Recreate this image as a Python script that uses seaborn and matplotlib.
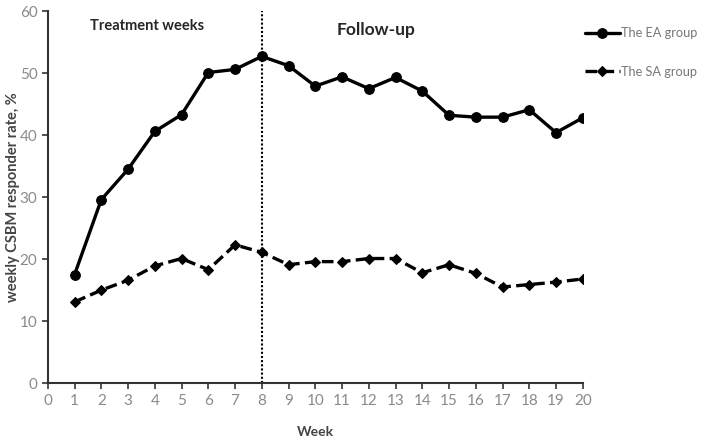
import pandas as pd
import matplotlib.pyplot as plt
import seaborn as sns

weeks = list(range(1, 21))
ea_rate = [17.5, 29.6, 34.5, 40.6, 43.3, 50.1, 50.6, 52.7, 51.2, 47.9,
           49.4, 47.5, 49.3, 47.1, 43.2, 42.9, 42.9, 44.1, 40.4, 42.8]
sa_rate = [13.1, 15.0, 16.6, 18.9, 20.1, 18.3, 22.3, 21.1, 19.1, 19.6,
           19.6, 20.1, 20.1, 17.8, 19.1, 17.7, 15.5, 15.9, 16.3, 16.8]
groups = ["The EA group", "The SA group"]

df = pd.concat([
    pd.DataFrame({"Week": weeks, "rate": ea_rate, "group": groups[0]}),
    pd.DataFrame({"Week": weeks, "rate": sa_rate, "group": groups[1]}),
])

sns.set_style("white")
plt.rcParams["font.family"] = ["Lato", "DejaVu Sans"]

fig = plt.figure(figsize=(7.03, 4.45), dpi=100)
ax = fig.add_axes([0.068, 0.139, 0.761, 0.836])

sns.lineplot(data=df, x="Week", y="rate", style="group", markers={groups[0]: "o", groups[1]: "D"},
             dashes={groups[0]: "", groups[1]: (3.5, 1.6)}, color="black", linewidth=2.4,
             markersize=7, markeredgecolor="black", ax=ax)
for ln in ax.lines:
    if ln.get_marker() == "D":
        ln.set_markersize(5.5)

ax.axvline(8, color="black", linestyle=(0, (1, 1)), linewidth=1.5)

ax.set_xlim(0, 20)
ax.set_ylim(0, 60)
ax.set_xticks(range(0, 21))
ax.set_yticks(range(0, 61, 10))
ax.tick_params(axis="both", labelcolor="#8a8a8a", color="#333333", labelsize=11, length=4, width=1.2,
               direction="out", bottom=True, left=True)
for s in ["top", "right"]:
    ax.spines[s].set_visible(False)
for s in ["left", "bottom"]:
    ax.spines[s].set_color("#333333")
    ax.spines[s].set_linewidth(1.5)

ax.set_xlabel("Week", labelpad=13, fontsize=10, fontweight="bold", color="#444444")
ax.set_ylabel("weekly CSBM responder rate, %", fontsize=10.5, fontweight="bold", color="#444444")
ax.yaxis.set_label_coords(-0.052, 0.5)

ax.text(3.7, 57.6, "Treatment weeks", fontsize=10.5, fontweight="bold", ha="center", va="center")
ax.text(12.27, 56.9, "Follow-up", fontsize=12.5, fontweight="bold", ha="center", va="center")

leg = ax.legend(loc="upper left", bbox_to_anchor=(0.995, 0.97), frameon=False, fontsize=9.2,
                handlelength=2.7, handletextpad=0.1, labelspacing=2.05, borderaxespad=0)
for t in leg.get_texts():
    t.set_color("#777777")

fig.savefig("out.png", dpi=100)
